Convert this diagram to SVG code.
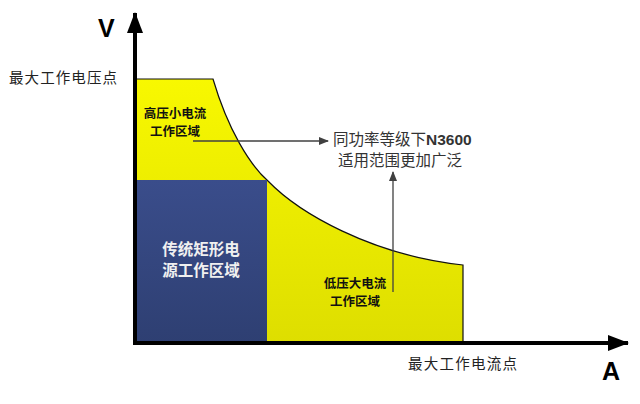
<svg xmlns="http://www.w3.org/2000/svg" width="640" height="404" viewBox="0 0 640 404">
<defs>
<linearGradient id="gy" x1="0" y1="0" x2="0" y2="1">
<stop offset="0" stop-color="#f8f800"/>
<stop offset="1" stop-color="#dede00"/>
</linearGradient>
<linearGradient id="gb" x1="0" y1="0" x2="0" y2="1">
<stop offset="0" stop-color="#3a4d8b"/>
<stop offset="1" stop-color="#2e3f72"/>
</linearGradient>
<marker id="ag" markerWidth="10" markerHeight="8" refX="9" refY="4" orient="auto" markerUnits="userSpaceOnUse">
<path d="M0,0 L10,4 L0,8 Z" fill="#404040"/>
</marker>
<marker id="ab" markerWidth="22" markerHeight="16" refX="20" refY="8" orient="auto" markerUnits="userSpaceOnUse">
<path d="M0,0 L21,8 L0,16 Z" fill="#000"/>
</marker>
</defs>
<style>
.t{font-family:"Noto Sans CJK SC","Liberation Sans",sans-serif;}
.ax{font-family:"Liberation Sans",Arial,sans-serif;font-weight:bold;font-size:25px;fill:#000;}
.lbl{font-size:14.5px;fill:#222;}
.y{font-size:12.5px;font-weight:bold;fill:#111;}
.w{font-size:15.5px;font-weight:bold;fill:#f0f0f0;}
.g{font-size:15.5px;fill:#333;}
.c{stroke:#404040;stroke-width:1.3;fill:none;}
</style>
<g id="yellow-region">
<path d="M135,79 L213,79 C228,130 250,165 268,181 C298,212 370,255 463,265 L463,343 L135,343 Z" fill="url(#gy)" stroke="#111" stroke-width="1.2"/>
</g>
<g id="blue-region">
<rect x="136" y="180" width="131" height="163" fill="url(#gb)"/>
</g>
<g id="axes">
<line x1="135" y1="345" x2="135" y2="13" stroke="#000" stroke-width="4" marker-end="url(#ab)"/>
<line x1="133" y1="343" x2="628" y2="343" stroke="#000" stroke-width="4" marker-end="url(#ab)"/>
</g>
<g id="connectors">
<line class="c" x1="193" y1="141" x2="328" y2="141" marker-end="url(#ag)"/>
<line class="c" x1="393" y1="292" x2="393" y2="172" marker-end="url(#ag)"/>
</g>
<g id="labels" class="t">
<text class="ax" x="98" y="37">V</text>
<text class="ax" x="602" y="380">A</text>
<text class="t lbl" x="9" y="83" textLength="108">最大工作电压点</text>
<text class="t lbl" x="408" y="369" textLength="109">最大工作电流点</text>
</g>
<g id="high-voltage-label" class="t">
<text class="t y" x="175" y="118" text-anchor="middle">高压小电流</text>
<text class="t y" x="175" y="136" text-anchor="middle">工作区域</text>
</g>
<g id="rect-label" class="t">
<text class="t w" x="201" y="255" text-anchor="middle">传统矩形电</text>
<text class="t w" x="201" y="276" text-anchor="middle">源工作区域</text>
</g>
<g id="low-voltage-label" class="t">
<text class="t y" x="355" y="288" text-anchor="middle">低压大电流</text>
<text class="t y" x="355" y="306" text-anchor="middle">工作区域</text>
</g>
<g id="note" class="t">
<text class="t g" x="333" y="145">同功率等级下<tspan font-family="Liberation Sans,sans-serif" font-weight="bold">N3600</tspan></text>
<text class="t g" x="400" y="166" text-anchor="middle">适用范围更加广泛</text>
</g>
</svg>
